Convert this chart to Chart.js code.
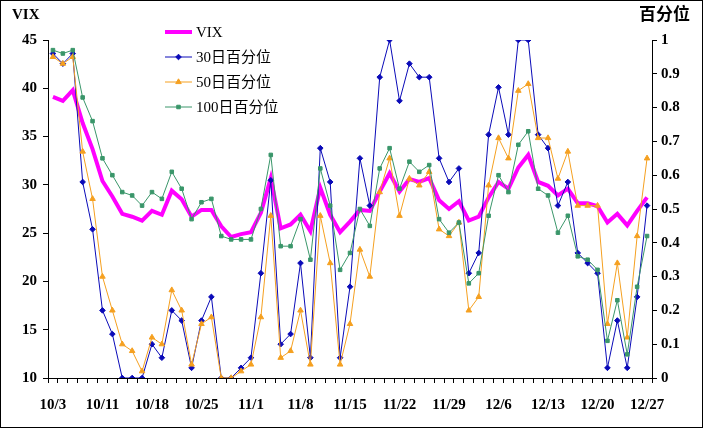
<!DOCTYPE html>
<html>
<head>
<meta charset="utf-8">
<script src="https://cdn.jsdelivr.net/npm/chart.js@4.4.1/dist/chart.umd.min.js"></script>
<style>
  html, body { margin: 0; padding: 0; background: #fff; }
  #wrap { width: 703px; height: 428px; position: relative; }
</style>
</head>
<body>
<div id="wrap"><canvas id="vixChart" width="703" height="428"></canvas></div>
<script>
// tick labels on the date axis, one every 5 trading days
const tickLabels = ['10/3', '10/11', '10/18', '10/25', '11/1', '11/8', '11/15', '11/22', '11/29', '12/6', '12/13', '12/20', '12/27'];

// VIX close (left axis)
const vix = [39.1, 38.7, 39.8, 36.4, 33.7, 30.4, 28.8, 27.0, 26.7, 26.3,
             27.3, 26.9, 29.4, 28.5, 26.7, 27.4, 27.4, 25.7, 24.6, 24.9,
             25.1, 27.1, 30.7, 25.5, 25.9, 26.9, 25.2, 29.7, 26.9, 25.1,
             26.2, 27.4, 27.3, 29.3, 31.2, 29.3, 30.6, 30.3, 30.7, 28.4,
             27.5, 28.3, 26.3, 26.7, 28.7, 30.3, 29.6, 31.8, 33.1, 30.3,
             29.9, 28.9, 29.6, 28.1, 28.1, 27.8, 26.1, 27.0, 25.8, 27.3,
             28.7];

// percentiles (right axis)
const pct30 = [0.96, 0.93, 0.96, 0.58, 0.44, 0.20, 0.13, 0, 0, 0,
               0.10, 0.06, 0.20, 0.17, 0.03, 0.17, 0.24, 0, 0, 0.03,
               0.06, 0.31, 0.585, 0.10, 0.13, 0.34, 0.06, 0.68, 0.58, 0.06,
               0.27, 0.65, 0.51, 0.89, 1.0, 0.82, 0.93, 0.89, 0.89, 0.65,
               0.58, 0.62, 0.31, 0.37, 0.72, 0.86, 0.72, 1.0, 1.0, 0.72,
               0.68, 0.51, 0.58, 0.37, 0.34, 0.31, 0.03, 0.17, 0.03, 0.24,
               0.51];
const pct50 = [0.95, 0.93, 0.95, 0.67, 0.53, 0.30, 0.20, 0.10, 0.08, 0.02,
               0.12, 0.10, 0.26, 0.20, 0.04, 0.16, 0.18, 0, 0, 0.02,
               0.04, 0.18, 0.48, 0.06, 0.08, 0.20, 0.04, 0.48, 0.34, 0.04,
               0.16, 0.38, 0.30, 0.55, 0.65, 0.48, 0.59, 0.57, 0.61, 0.44,
               0.42, 0.46, 0.20, 0.24, 0.57, 0.71, 0.65, 0.85, 0.87, 0.71,
               0.71, 0.59, 0.67, 0.51, 0.51, 0.51, 0.16, 0.34, 0.12, 0.42,
               0.65];
const pct100 = [0.97, 0.96, 0.97, 0.83, 0.76, 0.65, 0.60, 0.55, 0.54, 0.51,
                0.55, 0.53, 0.61, 0.56, 0.47, 0.52, 0.53, 0.42, 0.41, 0.41,
                0.41, 0.50, 0.66, 0.39, 0.39, 0.47, 0.35, 0.62, 0.51, 0.32,
                0.37, 0.50, 0.45, 0.62, 0.68, 0.56, 0.64, 0.61, 0.63, 0.47,
                0.43, 0.46, 0.28, 0.31, 0.48, 0.60, 0.55, 0.69, 0.73, 0.56,
                0.54, 0.43, 0.48, 0.36, 0.35, 0.32, 0.11, 0.23, 0.07, 0.27,
                0.42];

// category list: a label every 5th point, blank between
const categories = vix.map((v, i) => (i % 5 === 0 ? tickLabels[i / 5] : ''));

const serif = "'Liberation Serif', 'Times New Roman', serif";
const cjk = "'Liberation Serif', 'Noto Sans CJK SC', serif";

// legend, axis captions and outer frame
const decorations = {
  id: 'decorations',
  afterDraw(chart) {
    const ctx = chart.ctx;
    ctx.save();
    ctx.strokeStyle = '#000';
    ctx.lineWidth = 1;
    ctx.strokeRect(0.5, 0.5, chart.width - 1, chart.height - 1);

    ctx.fillStyle = '#000';
    ctx.textBaseline = 'middle';
    ctx.font = 'bold 15px ' + serif;
    ctx.textAlign = 'left';
    ctx.fillText('VIX', 12, 15);
    ctx.font = 'bold 17px ' + cjk;
    ctx.textAlign = 'right';
    ctx.fillText('百分位', 690, 16);

    ctx.textAlign = 'left';
    ctx.font = '15px ' + cjk;
    chart.data.datasets.forEach((ds, i) => {
      const y = 32 + i * 25;
      ctx.strokeStyle = ds.borderColor;
      ctx.lineWidth = ds.borderWidth;
      ctx.beginPath();
      ctx.moveTo(165, y);
      ctx.lineTo(192, y);
      ctx.stroke();
      if (ds.pointRadius > 0) {
        ctx.fillStyle = ds.pointBackgroundColor;
        ctx.strokeStyle = ds.borderColor;
        Chart.helpers.drawPoint(ctx, {
          pointStyle: ds.pointStyle, radius: ds.pointRadius, rotation: 0, borderWidth: 1
        }, 178.5, y);
      }
      ctx.fillStyle = '#000';
      ctx.fillText(ds.label, 196, y + 1);
    });
    ctx.restore();
  }
};

document.addEventListener('DOMContentLoaded', () => {
  const ctx = document.getElementById('vixChart').getContext('2d');
  new Chart(ctx, {
    type: 'line',
    data: {
      labels: categories,
      datasets: [
        { label: 'VIX', data: vix, yAxisID: 'y', borderColor: '#ff00ff', borderWidth: 4,
          pointRadius: 0, tension: 0, order: 4 },
        { label: '30日百分位', data: pct30, yAxisID: 'y1', borderColor: '#0a0ab8', borderWidth: 1,
          pointStyle: 'rectRot', pointRadius: 2.8, pointBackgroundColor: '#0a0ab8', tension: 0, order: 3 },
        { label: '50日百分位', data: pct50, yAxisID: 'y1', borderColor: '#f5a020', borderWidth: 1,
          pointStyle: 'triangle', pointRadius: 3.2, pointBackgroundColor: '#f5a020', tension: 0, order: 2 },
        { label: '100日百分位', data: pct100, yAxisID: 'y1', borderColor: '#3a966a', borderWidth: 1,
          pointStyle: 'rect', pointRadius: 2.5, pointBackgroundColor: '#3a966a', tension: 0, order: 1 }
      ]
    },
    options: {
      responsive: false,
      animation: false,
      layout: { padding: { top: 40, left: 0, right: 0, bottom: 0 } },
      plugins: { legend: { display: false }, tooltip: { enabled: false } },
      scales: {
        x: {
          offset: true,
          grid: { offset: true, drawOnChartArea: false, tickLength: 5, color: '#000' },
          border: { color: '#000', width: 1 },
          ticks: { autoSkip: false, maxRotation: 0, padding: 13, color: '#000',
                   font: { family: serif, size: 15, weight: 'bold' } },
          afterFit(scale) { scale.height = 50; }
        },
        y: {
          position: 'left', min: 10, max: 45,
          grid: { drawOnChartArea: false, tickLength: 5, color: '#000' },
          border: { color: '#000', width: 1 },
          ticks: { stepSize: 5, padding: 6, color: '#000',
                   font: { family: serif, size: 15, weight: 'bold' } },
          afterFit(scale) { scale.width = 48; }
        },
        y1: {
          position: 'right', min: 0, max: 1,
          grid: { drawOnChartArea: false, tickLength: 5, color: '#000' },
          border: { color: '#000', width: 1 },
          ticks: { stepSize: 0.1, padding: 4, color: '#000',
                   font: { family: serif, size: 15, weight: 'bold' },
                   callback: v => String(Math.round(v * 10) / 10) },
          afterFit(scale) { scale.width = 51; }
        }
      }
    },
    plugins: [decorations]
  });
});
</script>
</body>
</html>
